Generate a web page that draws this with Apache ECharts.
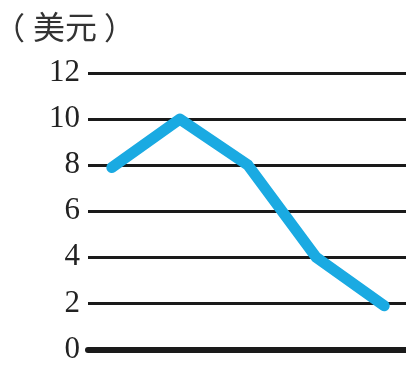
<!DOCTYPE html>
<html><head><meta charset="utf-8">
<script src="https://cdn.jsdelivr.net/npm/echarts@6/dist/echarts.min.js"></script>
<style>html,body{margin:0;padding:0;background:#fff}#c{width:406px;height:365px}</style>
</head><body><div id="c"></div>
<script>
var xIndex = [0, 1, 2, 3, 4];
var values = [7.9, 10, 8, 4, 1.9];
var yTicks = [0, 2, 4, 6, 8, 10, 12];
var unitLabel = ['（', '美元', '）'];

var chart = echarts.init(document.getElementById('c'));
var f = 'Noto Sans CJK SC';
chart.setOption({
  animation: false,
  backgroundColor: '#fff',
  title: {
    text: '{a|' + unitLabel[0] + '}{b|' + unitLabel[1] + '}{c|' + unitLabel[2] + '}',
    left: -6, top: 11, padding: 0,
    textStyle: {
      fontFamily: f, fontSize: 31, fontWeight: 'normal', color: '#333',
      rich: {
        a: {fontFamily: f, fontSize: 31, color: '#333', width: 39, align: 'left'},
        b: {fontFamily: f, fontSize: 32, color: '#333'},
        c: {fontFamily: f, fontSize: 31, color: '#333', padding: [0, 0, 0, 7]}
      }
    }
  },
  grid: {left: 88, right: 0, top: 73, bottom: 12, containLabel: false},
  xAxis: {
    type: 'value', min: -0.35, max: 4.32,
    axisLine: {show: true, onZero: false, lineStyle: {color: '#1a1a1a', width: 6}},
    axisTick: {show: false}, axisLabel: {show: false}, splitLine: {show: false}
  },
  yAxis: {
    type: 'value', min: 0, max: 12, interval: 2,
    axisLine: {show: false}, axisTick: {show: false},
    axisLabel: {
      margin: 8, fontFamily: 'Liberation Serif', fontSize: 31, color: '#222',
      formatter: function (v) { return yTicks.indexOf(v) >= 0 ? String(v) : ''; }
    },
    splitLine: {show: true, lineStyle: {color: '#1a1a1a', width: 3}}
  },
  series: [{
    type: 'line',
    data: xIndex.map(function (x, i) { return [x, values[i]]; }),
    symbol: 'none',
    lineStyle: {color: '#1aaae2', width: 11, cap: 'round', join: 'round'},
    z: 5
  }]
});
</script></body></html>
